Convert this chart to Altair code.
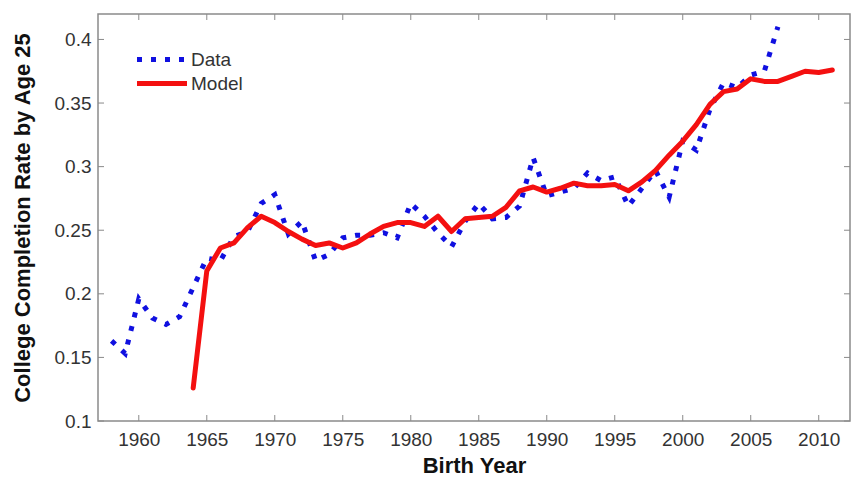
import altair as alt
import pandas as pd

# ---- data ----
data_years = list(range(1958, 2008))
data_values = [0.163, 0.153, 0.196, 0.181, 0.176, 0.182, 0.205, 0.228, 0.226, 0.245,
               0.249, 0.271, 0.278, 0.247, 0.257, 0.226, 0.231, 0.244, 0.246, 0.246,
               0.248, 0.244, 0.271, 0.261, 0.248, 0.237, 0.257, 0.271, 0.259, 0.260,
               0.269, 0.307, 0.277, 0.280, 0.283, 0.295, 0.289, 0.292, 0.269, 0.283,
               0.297, 0.276, 0.320, 0.313, 0.345, 0.366, 0.362, 0.372, 0.375, 0.410]

model_years = list(range(1964, 2012))
model_values = [0.126, 0.218, 0.236, 0.240, 0.252, 0.261, 0.256, 0.249, 0.243, 0.238,
                0.240, 0.236, 0.240, 0.247, 0.253, 0.256, 0.256, 0.253, 0.261, 0.249,
                0.259, 0.260, 0.261, 0.268, 0.281, 0.284, 0.280, 0.283, 0.287, 0.285,
                0.285, 0.286, 0.281, 0.288, 0.297, 0.309, 0.320, 0.333, 0.349, 0.359,
                0.361, 0.369, 0.367, 0.367, 0.371, 0.375, 0.374, 0.376]

series_names = ["Data", "Model"]
x_ticks = [1960, 1965, 1970, 1975, 1980, 1985, 1990, 1995, 2000, 2005, 2010]
y_ticks = [0.1, 0.15, 0.2, 0.25, 0.3, 0.35, 0.4]

W, H = 752, 407
BLUE = "#1010e0"
RED = "#f41010"
FRAME = "#8a8a8a"

df_data = pd.DataFrame({"year": data_years, "rate": data_values})
df_model = pd.DataFrame({"year": model_years, "rate": model_values})
df_xt = pd.DataFrame({"v": x_ticks})
df_yt = pd.DataFrame({"v": y_ticks})

xscale = alt.Scale(domain=[1957, 2012.3], nice=False, zero=False)
yscale = alt.Scale(domain=[0.1, 0.42], nice=False, zero=False)

xaxis = alt.Axis(values=x_ticks, format="d", title="Birth Year", grid=False, domain=False,
                 ticks=False, labelFontSize=19, labelFont="Liberation Sans", labelColor="#333333",
                 labelPadding=9, titleFont="Liberation Sans", titleFontSize=22, titleFontWeight="bold",
                 titleColor="#111111", titlePadding=6, labelFlush=False)
yaxis = alt.Axis(values=y_ticks, format=".2~f", title="College Completion Rate by Age 25", grid=False,
                 domain=False, ticks=False, labelFontSize=19, labelFont="Liberation Sans",
                 labelColor="#333333", labelPadding=7, titleFont="Liberation Sans", titleFontSize=22,
                 titleFontWeight="bold", titleColor="#111111", titlePadding=20, labelFlush=False)

data_line = alt.Chart(df_data).mark_line(
    color=BLUE, strokeWidth=5, strokeDash=[5, 9], strokeCap="butt"
).encode(
    x=alt.X("year:Q", scale=xscale, axis=xaxis),
    y=alt.Y("rate:Q", scale=yscale, axis=yaxis),
)

model_line = alt.Chart(df_model).mark_line(
    color=RED, strokeWidth=5, strokeJoin="round", strokeCap="round"
).encode(
    x=alt.X("year:Q", scale=xscale),
    y=alt.Y("rate:Q", scale=yscale),
)

# inward ticks on all four sides (MATLAB-style box)
tick_style = dict(color=FRAME, strokeWidth=1)
bottom_ticks = alt.Chart(df_xt).mark_rule(**tick_style).encode(
    x=alt.X("v:Q", scale=xscale), y=alt.value(H), y2=alt.value(H - 6))
top_ticks = alt.Chart(df_xt).mark_rule(**tick_style).encode(
    x=alt.X("v:Q", scale=xscale), y=alt.value(0), y2=alt.value(6))
left_ticks = alt.Chart(df_yt).mark_rule(**tick_style).encode(
    y=alt.Y("v:Q", scale=yscale), x=alt.value(0), x2=alt.value(6))
right_ticks = alt.Chart(df_yt).mark_rule(**tick_style).encode(
    y=alt.Y("v:Q", scale=yscale), x=alt.value(W), x2=alt.value(W - 6))

# legend (top-left, inside the plot)
leg_data = pd.DataFrame({"s": [series_names[0]]})
leg_model = pd.DataFrame({"s": [series_names[1]]})
leg_sym_data = alt.Chart(leg_data).mark_rule(
    color=BLUE, strokeWidth=5, strokeDash=[5, 9], strokeCap="butt"
).encode(x=alt.value(39), x2=alt.value(91), y=alt.value(45.5))
leg_sym_model = alt.Chart(leg_model).mark_rule(
    color=RED, strokeWidth=5
).encode(x=alt.value(39), x2=alt.value(89), y=alt.value(69.5))
leg_txt_data = alt.Chart(leg_data).mark_text(
    align="left", baseline="middle", font="Liberation Sans", fontSize=19, color="#333333"
).encode(x=alt.value(93), y=alt.value(45.5), text="s:N")
leg_txt_model = alt.Chart(leg_model).mark_text(
    align="left", baseline="middle", font="Liberation Sans", fontSize=19, color="#333333"
).encode(x=alt.value(93), y=alt.value(69.5), text="s:N")

chart = alt.layer(
    data_line, model_line,
    bottom_ticks, top_ticks, left_ticks, right_ticks,
    leg_sym_data, leg_sym_model, leg_txt_data, leg_txt_model,
).properties(
    width=W, height=H,
    autosize=alt.AutoSizeParams(type="none"),
    padding={"left": 98, "top": 14, "right": 2, "bottom": 56},
    background="white",
).configure_view(
    stroke=FRAME, strokeWidth=1.5
)

chart.save("out.html", embed_options={"renderer": "svg", "actions": False})
